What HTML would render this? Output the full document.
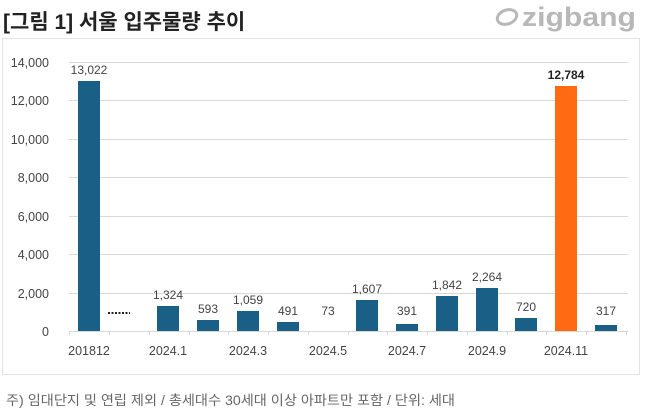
<!DOCTYPE html>
<html><head><meta charset="utf-8"><style>
body{margin:0;background:#fff;width:650px;height:415px;overflow:hidden;font-family:"Liberation Sans","Noto Sans CJK KR",sans-serif}
</style></head><body>
<svg width="650" height="415" xmlns="http://www.w3.org/2000/svg" font-family="Liberation Sans, Noto Sans CJK KR, sans-serif">
<text x="3" y="29" font-size="21" font-weight="bold" fill="#222">[그림 1] 서울 입주물량 추이</text>
<text x="522" y="26" font-size="27" font-weight="bold" fill="#b8b8b8" textLength="114" lengthAdjust="spacingAndGlyphs">zigbang</text>
<g transform="translate(507,17) rotate(-20)"><ellipse cx="0" cy="0" rx="10" ry="7" fill="none" stroke="#b8b8b8" stroke-width="3"/></g>
<rect x="2.5" y="38.5" width="637" height="336" fill="none" stroke="#e2e2e2"/>
<g stroke="#d9d9d9" stroke-width="1">
<line x1="69" x2="628" y1="62.5" y2="62.5"/><line x1="69" x2="628" y1="100.5" y2="100.5"/>
<line x1="69" x2="628" y1="139.5" y2="139.5"/><line x1="69" x2="628" y1="177.5" y2="177.5"/>
<line x1="69" x2="628" y1="216.5" y2="216.5"/><line x1="69" x2="628" y1="254.5" y2="254.5"/>
<line x1="69" x2="628" y1="293.5" y2="293.5"/><line x1="69" x2="628" y1="331.5" y2="331.5"/>
<path d="M69.5 331v4M109.5 331v4M149.5 331v4M189.5 331v4M228.5 331v4M268.5 331v4M308.5 331v4M348.5 331v4M387.5 331v4M427.5 331v4M467.5 331v4M507.5 331v4M546.5 331v4M586.5 331v4M626.5 331v4"/>
</g>
<g font-size="12.5" fill="#444" text-anchor="end">
<text x="49" y="67">14,000</text><text x="49" y="105">12,000</text><text x="49" y="144">10,000</text>
<text x="49" y="182">8,000</text><text x="49" y="221">6,000</text><text x="49" y="259">4,000</text>
<text x="49" y="298">2,000</text><text x="49" y="336">0</text>
</g>
<g fill="#1a5f85">
<rect x="78" y="81" width="22" height="250"/>
<rect x="157" y="306" width="22" height="25"/>
<rect x="197" y="320" width="22" height="11"/>
<rect x="237" y="311" width="22" height="20"/>
<rect x="277" y="322" width="22" height="9"/>
<rect x="356" y="300" width="22" height="31"/>
<rect x="396" y="324" width="22" height="7"/>
<rect x="436" y="296" width="22" height="35"/>
<rect x="476" y="288" width="22" height="43"/>
<rect x="515" y="318" width="22" height="13"/>
<rect x="595" y="325" width="22" height="6"/>
</g>
<rect x="555" y="86" width="22" height="245" fill="#ff6a13"/>
<line x1="108" x2="130" y1="313" y2="313" stroke="#222" stroke-width="2" stroke-dasharray="2,1.5"/>
<g font-size="12" fill="#444" text-anchor="middle">
<text x="89" y="74">13,022</text>
<text x="168" y="299">1,324</text><text x="208" y="313">593</text><text x="248" y="304">1,059</text>
<text x="288" y="315">491</text><text x="328" y="315">73</text><text x="367" y="293">1,607</text>
<text x="407" y="315">391</text><text x="447" y="289">1,842</text><text x="487" y="281">2,264</text>
<text x="526" y="311">720</text><text x="606" y="315">317</text>
<text x="566" y="79" font-weight="bold" fill="#222">12,784</text>
</g>
<g font-size="12.5" fill="#444" text-anchor="middle">
<text x="89" y="355">201812</text><text x="168" y="355">2024.1</text><text x="248" y="355">2024.3</text>
<text x="328" y="355">2024.5</text><text x="407" y="355">2024.7</text><text x="487" y="355">2024.9</text>
<text x="566" y="355">2024.11</text>
</g>
<text x="6" y="405" font-size="13.5" fill="#666" textLength="449" lengthAdjust="spacingAndGlyphs">주) 임대단지 및 연립 제외 / 총세대수 30세대 이상 아파트만 포함 / 단위: 세대</text>
</svg>
</body></html>
